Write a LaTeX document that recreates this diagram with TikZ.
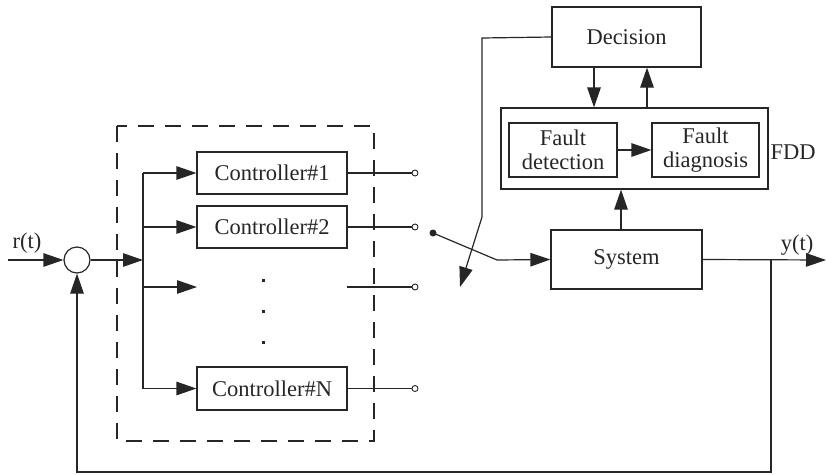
\documentclass[tikz,border=0pt]{standalone}
\usepackage{fontspec}
\setmainfont{Liberation Serif}
\usetikzlibrary{arrows.meta}
\begin{document}
\begin{tikzpicture}[x=1pt,y=-1pt,
  line width=1.2pt, draw=black!85, text=black!85,
  font=\rmfamily\fontsize{22.5}{24.5}\selectfont,
  tip/.style={-{Triangle[length=20pt,width=13.5pt]}},
  blk/.style={draw, rectangle, inner sep=0pt, align=center},
  port/.style={draw, circle, fill=white, inner sep=0pt, minimum size=6pt, line width=0.9pt},
  swdot/.style={circle, fill=black!85, inner sep=0pt, minimum size=7pt},
  frame/.style={draw, dash pattern=on 16pt off 11pt, line width=1.2pt}]
\useasboundingbox (0,0) rectangle (826,474);

% blocks
\node[blk, minimum width=150pt, minimum height=42pt] (c1) at (272,173) {Controller\#1};
\node[blk, minimum width=150pt, minimum height=42pt] (c2) at (272,227) {Controller\#2};
\node[blk, minimum width=150pt, minimum height=43pt] (cN) at (272,388.5) {Controller\#N};
\node[blk, minimum width=151pt, minimum height=59pt] (sys) at (626.5,259.5) {System};
\node[blk, minimum width=149pt, minimum height=60pt] (dec) at (626.5,37) {Decision};
\node[blk, minimum width=267pt, minimum height=81pt] (fdd) at (634.5,148.5) {};
\node[blk, minimum width=108pt, minimum height=54pt] (fdet) at (563,150) {Fault\\detection};
\node[blk, minimum width=107pt, minimum height=54pt] (fdiag) at (705.5,150) {Fault\\diagnosis};
\node[draw, circle, minimum size=26pt, inner sep=0pt] (sum) at (77,260) {};

% labels
\node (rl) at (27,243) {r(t)};
\node (yl) at (797,245) {y(t)};
\node (fl) at (793,152) {FDD};

% dashed controller bank
\draw[frame] (117,126) rectangle (374,441);

% coordinates
\coordinate (in) at (8,260);
\coordinate (busin) at (143,260);
\coordinate (bustop) at (143,173);
\coordinate (busbot) at (143,388.5);
\coordinate (b3) at (143,287);
\coordinate (e3) at (197,287);
\coordinate (s3) at (347,287);
\coordinate (knee) at (497,260);
\coordinate (dl1) at (482,38);
\coordinate (dl2) at (482,217);
\coordinate (dl3) at (460,287);
\coordinate (out) at (826,260);
\coordinate (tap) at (771,260);
\coordinate (fbr) at (771,472);
\coordinate (fbl) at (77,472);

\node[port] (o1) at (415,173) {};
\node[port] (o2) at (415,227) {};
\node[port] (o3) at (415,287) {};
\node[port] (oN) at (415,388.5) {};
\node[swdot] (sw) at (433,233) {};

% input and summing junction
\draw[tip] (in) -- (sum.west);
\draw[tip] (sum.east) -- (busin);
\draw (bustop) -- (busbot);
\draw[tip] (bustop) -- (c1.west);
\draw[tip] (143,227) -- (c2.west);
\draw[tip] (b3) -- (e3);
\draw[tip] (busbot) -- (cN.west);

% controller outputs
\draw (c1.east) -- (o1.west);
\draw (c2.east) -- (o2.west);
\draw (s3) -- (o3.west);
\draw (cN.east) -- (oN.west);

% vertical ellipsis
\foreach \yy in {280,311,342} \fill[black!85] (261.5,\yy-1.5) rectangle (264.5,\yy+1.5);

% switch
\draw (sw.center) -- (knee);
\draw[tip] (knee) -- (sys.west);
\draw[tip] (dec.west) -- (dl1) -- (dl2) -- (dl3);

% FDD links
\draw[tip] (dec.south -| 594,0) -- (fdd.north -| 594,0);
\draw[tip] (fdd.north -| 647,0) -- (dec.south -| 647,0);
\draw[tip] (fdet.east) -- (fdiag.west);
\draw[tip] (sys.north -| 621,0) -- (fdd.south -| 621,0);

% output and feedback
\draw[tip] (sys.east) -- (out);
\draw[tip] (tap) -- (fbr) -- (fbl) -- (sum.south);
\end{tikzpicture}
\end{document}
